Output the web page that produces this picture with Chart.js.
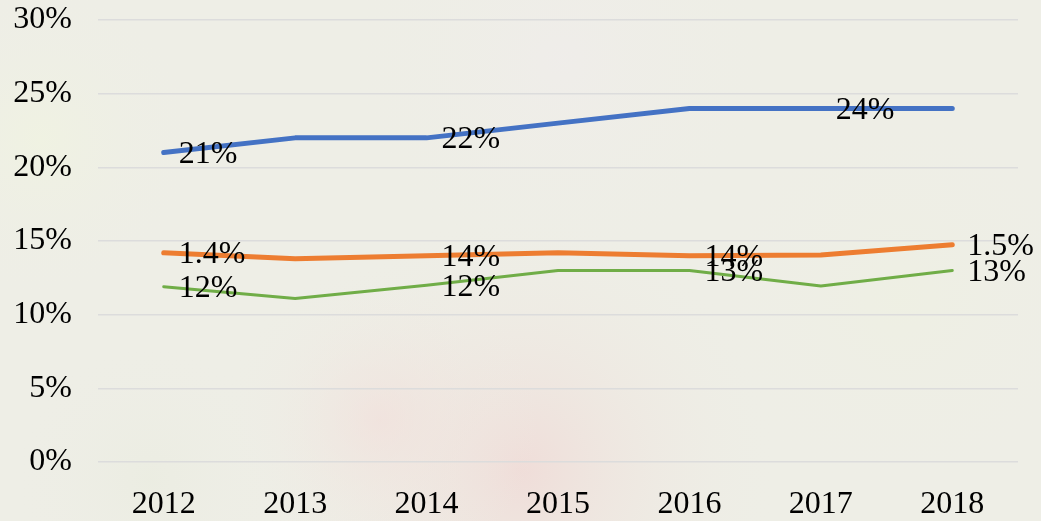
<!DOCTYPE html>
<html>
<head>
<meta charset="utf-8">
<script src="https://cdn.jsdelivr.net/npm/chart.js@4"></script>
<style>
  html, body { margin: 0; padding: 0; background: #efefe7; }
  #wrap { width: 1041px; height: 521px; position: relative; }
</style>
</head>
<body>
<div id="wrap"><canvas id="chart" width="1041" height="521"></canvas></div>
<script>
const years = ['2012', '2013', '2014', '2015', '2016', '2017', '2018'];
const blueValues = [21, 22, 22, 23, 24, 24, 24];
const orangeValues = [14.2, 13.8, 14, 14.2, 14, 14.05, 14.75];
const greenValues = [11.9, 11.1, 12, 13, 13, 11.95, 13];
const blueLabels = ['21%', null, '22%', null, null, '24%', null];
const orangeLabels = ['1.4%', null, '14%', null, '14%', null, '1.5%'];
const greenLabels = ['12%', null, '12%', null, '13%', null, '13%'];
const yTicks = [0, 5, 10, 15, 20, 25, 30];

const serif = '"Liberation Serif", "Times New Roman", serif';

// faded photo-like backdrop
const backdrop = {
	id: 'backdrop',
	beforeDraw(chart) {
		const ctx = chart.ctx;
		const w = chart.width, h = chart.height;
		ctx.save();
		ctx.fillStyle = '#eeeee6';
		ctx.fillRect(0, 0, w, h);
		const blobs = [
			[520, 470, 260, 'rgba(240, 215, 212, 0.75)'],
			[380, 420, 160, 'rgba(242, 222, 218, 0.6)'],
			[40, 140, 160, 'rgba(240, 243, 225, 0.8)'],
			[900, 300, 200, 'rgba(238, 240, 226, 0.7)'],
			[560, 60, 220, 'rgba(240, 236, 236, 0.6)'],
			[150, 480, 140, 'rgba(234, 236, 224, 0.7)']
		];
		blobs.forEach(([x, y, r, c]) => {
			const g = ctx.createRadialGradient(x, y, 0, x, y, r);
			g.addColorStop(0, c);
			g.addColorStop(1, 'rgba(238, 238, 230, 0)');
			ctx.fillStyle = g;
			ctx.fillRect(0, 0, w, h);
		});
		ctx.restore();
	}
};

// point labels drawn to the right of the point
const pointLabels = {
	id: 'pointLabels',
	afterDatasetsDraw(chart) {
		const ctx = chart.ctx;
		ctx.save();
		ctx.font = '32px ' + serif;
		ctx.fillStyle = '#000';
		ctx.textAlign = 'left';
		ctx.textBaseline = 'middle';
		chart.data.datasets.forEach((ds, i) => {
			const meta = chart.getDatasetMeta(i);
			ds.labels.forEach((txt, j) => {
				if (!txt) return;
				const pt = meta.data[j];
				ctx.fillText(txt, pt.x + 15, pt.y + 2);
			});
		});
		ctx.restore();
	}
};

const lineSet = (label, data, labels, color, width) => ({
	label: label,
	data: data,
	labels: labels,
	borderColor: color,
	backgroundColor: color,
	borderWidth: width,
	borderCapStyle: 'round',
	borderJoinStyle: 'round',
	pointRadius: 0,
	tension: 0,
	fill: false
});

new Chart(document.getElementById('chart'), {
	type: 'line',
	data: {
		labels: years,
		datasets: [
			lineSet('Blue', blueValues, blueLabels, '#4472c4', 5),
			lineSet('Orange', orangeValues, orangeLabels, '#ed7d31', 5),
			lineSet('Green', greenValues, greenLabels, '#70ad47', 3)
		]
	},
	options: {
		responsive: false,
		animation: false,
		layout: { padding: { top: 20, right: 23, left: 0, bottom: 0 } },
		plugins: {
			legend: { display: false },
			tooltip: { enabled: false }
		},
		scales: {
			x: {
				offset: true,
				grid: { display: false },
				border: { display: false },
				ticks: {
					color: '#000',
					font: { family: serif, size: 32 },
					padding: 15,
					maxRotation: 0
				},
				afterFit: (scale) => {
					scale.height = 59;
					scale.paddingLeft = 0;
					scale.paddingRight = 0;
				}
			},
			y: {
				min: 0,
				max: 30,
				afterBuildTicks: (scale) => { scale.ticks = yTicks.map((v) => ({ value: v })); },
				grid: { color: '#dcdcdc', lineWidth: 1.5, drawTicks: false },
				border: { display: false },
				ticks: {
					color: '#000',
					font: { family: serif, size: 32 },
					padding: 26,
					callback: (v) => v + '%'
				},
				afterFit: (scale) => {
					scale.width = 98;
					scale.paddingTop = 0;
					scale.paddingBottom = 0;
				}
			}
		}
	},
	plugins: [backdrop, pointLabels]
});
</script>
</body>
</html>
